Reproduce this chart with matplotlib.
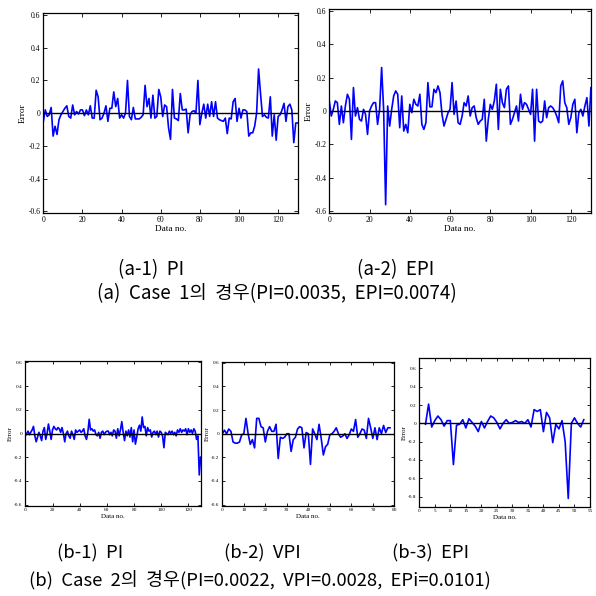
import numpy as np
import matplotlib
matplotlib.use("Agg")
import matplotlib.pyplot as plt

matplotlib.rcParams["axes.unicode_minus"] = False
matplotlib.rcParams["font.family"] = ["Liberation Serif", "DejaVu Serif"]

# (a-1) Case 1, PI error
a1_err = [-0.05, 0.02, -0.02, -0.01, 0.035, -0.14, -0.08, -0.13, -0.04, -0.01,
          0.01, 0.03, 0.045, -0.02, -0.03, 0.05, -0.01, 0.01, -0.005, 0.02,
          0.02, -0.015, 0.02, -0.01, 0.045, -0.03, -0.03, 0.14, 0.10, -0.04,
          -0.03, 0.0, 0.045, -0.05, 0.03, 0.03, 0.13, 0.04, 0.09, -0.03,
          -0.01, -0.03, 0.0, 0.20, -0.02, -0.04, 0.035, -0.035, -0.035, -0.035,
          -0.025, -0.01, 0.17, 0.04, 0.09, -0.03, 0.11, -0.03, -0.02, 0.145,
          0.10, -0.02, 0.05, 0.04, -0.09, -0.16, 0.145, -0.03, -0.035, -0.045,
          0.12, 0.02, 0.02, 0.025, -0.12, -0.01, 0.01, 0.015, 0.0, 0.20,
          -0.07, 0.0, 0.055, -0.03, 0.055, -0.02, 0.07, -0.02, 0.07, -0.03,
          -0.04, -0.045, -0.05, -0.03, -0.125, -0.03, -0.035, 0.07, 0.09, -0.05,
          0.03, -0.03, 0.02, 0.02, 0.01, -0.14, -0.12, -0.12, -0.08, 0.0,
          0.27, 0.12, -0.02, -0.01, -0.025, -0.03, 0.10, -0.14, -0.01, -0.165,
          -0.02, -0.01, 0.02, 0.06, -0.05, 0.04, 0.055, 0.02, -0.18, -0.06,
          -0.06]

# (a-2) Case 1, EPI error
a2_err = [0.06, -0.03, 0.01, 0.06, 0.05, -0.08, 0.03, -0.07, 0.03, 0.10,
          0.07, -0.17, 0.14, -0.03, 0.02, -0.05, -0.06, 0.01, -0.02, -0.14,
          0.0, 0.03, 0.05, 0.05, -0.08, 0.01, 0.26, 0.01, -0.56, 0.03,
          -0.09, 0.01, 0.09, 0.12, 0.10, -0.10, 0.09, -0.12, -0.08, -0.13,
          0.04, -0.01, 0.07, 0.04, 0.03, 0.10, -0.08, -0.11, -0.07, 0.17,
          0.025, 0.025, 0.13, 0.11, 0.15, 0.11, -0.02, -0.09, -0.05, -0.01,
          0.01, 0.17, -0.02, 0.06, -0.07, -0.08, -0.03, 0.05, 0.03, 0.09,
          -0.03, 0.02, 0.03, -0.04, -0.08, -0.06, -0.05, 0.07, -0.18, -0.05,
          0.04, 0.01, 0.06, 0.16, -0.11, 0.13, 0.05, 0.02, 0.13, 0.15,
          -0.08, -0.05, -0.01, 0.03, -0.06, 0.10, 0.01, 0.05, 0.04, 0.01,
          -0.02, 0.13, -0.18, 0.13, -0.06, -0.07, -0.06, 0.06, -0.04, 0.02,
          0.03, 0.02, 0.0, -0.03, -0.07, 0.15, 0.18, 0.05, 0.02, -0.08,
          -0.04, 0.04, 0.07, -0.13, -0.01, 0.01, -0.03, 0.03, 0.08, -0.09,
          0.14]

# (b-1) Case 2, PI error
b1_err = [-0.02, 0.0, 0.02, -0.01, 0.01, 0.03, 0.06, -0.02, -0.07, -0.03,
          0.01, -0.02, -0.06, 0.02, 0.05, -0.05, 0.0, 0.08, 0.02, -0.05,
          0.03, 0.06, 0.04, 0.03, 0.05, 0.04, 0.01, 0.05, 0.0, -0.07,
          0.0, 0.02, -0.02, -0.04, 0.02, -0.01, -0.05, 0.03, 0.01, 0.02,
          0.03, 0.01, 0.02, 0.04, -0.02, -0.05, 0.01, 0.12, 0.03, 0.04,
          0.02, 0.03, -0.01, -0.02, 0.01, -0.04, 0.01, 0.02, -0.01, 0.01,
          0.02, 0.02, -0.01, 0.01, -0.02, 0.03, 0.02, -0.04, 0.04, -0.02,
          0.03, 0.10, 0.01, -0.06, 0.02, -0.02, 0.03, -0.03, 0.05, -0.07,
          0.03, -0.09, -0.03, 0.04, 0.07, 0.02, 0.14, 0.05, 0.06, -0.02,
          0.05, 0.02, 0.03, -0.03, 0.01, 0.02, -0.01, 0.02, -0.03, 0.02,
          0.01, -0.02, -0.12, 0.01, 0.0, -0.01, 0.02, 0.0, 0.02, -0.01,
          0.01, -0.02, 0.03, 0.01, 0.04, 0.01, 0.03, 0.02, 0.04, -0.01,
          0.04, 0.01, 0.03, 0.0, 0.04, 0.02, -0.05, -0.02, -0.35, -0.20]

# (b-2) Case 2, VPI error
b2_err = [0.0, 0.03, 0.0, 0.04, 0.02, -0.07, -0.08, -0.08, -0.07, -0.01,
          0.0, 0.13, 0.0, -0.09, -0.05, -0.12, 0.13, 0.13, 0.06, 0.05,
          -0.07, 0.02, 0.06, 0.02, 0.02, 0.08, -0.21, -0.03, -0.04, -0.03,
          0.0, 0.0, -0.15, -0.05, -0.03, 0.04, 0.06, 0.05, -0.12, 0.01,
          0.0, -0.26, 0.04, 0.0, -0.05, 0.08, -0.04, -0.18, -0.11, -0.09,
          -0.01, 0.0, 0.02, 0.05, 0.0, -0.03, -0.02, 0.0, -0.04, -0.01,
          0.04, 0.02, 0.12, -0.03, 0.0, 0.04, 0.03, -0.04, 0.13, 0.05,
          -0.04, 0.05, -0.05, 0.05, 0.0, 0.07, 0.01, 0.05, 0.05]

# (b-3) Case 2, EPI error (starts at data no. 2)
b3_start = 2
b3_err = [-0.01, 0.21, -0.04, 0.03, 0.08, 0.04, -0.03, 0.03, 0.03, -0.45,
          -0.02, -0.01, 0.04, -0.05, 0.05, 0.01, -0.03, -0.09, 0.02, -0.05,
          0.02, 0.08, 0.06, 0.01, -0.06, 0.0, 0.04, 0.0, 0.01, 0.03,
          0.01, 0.02, 0.0, 0.04, -0.04, 0.15, 0.13, 0.15, -0.09, 0.12,
          0.06, -0.21, -0.01, -0.06, 0.03, -0.20, -0.82, 0.0, 0.06, 0.0,
          -0.04, 0.04]

sub_titles_a = ["(a-1)  PI", "(a-2)  EPI"]
sub_titles_b = ["(b-1)  PI", "(b-2)  VPI", "(b-3)  EPI"]
title_a = "(a)  Case  1의  경우(PI=0.0035,  EPI=0.0074)"
title_b = "(b)  Case  2의  경우(PI=0.0022,  VPI=0.0028,  EPi=0.0101)"

kr = ["Noto Sans CJK KR", "DejaVu Sans"]


def draw(ax, x, y, xlim, xticks, ylim, yticks, fs, ticklen):
    ax.plot(x, y, color="#0000ff", lw=1.2)
    ax.axhline(0, color="k", lw=1.0)
    ax.set_xlim(xlim)
    ax.set_ylim(ylim)
    ax.set_xticks(xticks)
    ax.set_yticks(yticks)
    ax.set_yticklabels(["0" if abs(v) < 1e-9 else "%g" % v for v in yticks])
    ax.tick_params(direction="in", top=True, right=True, length=ticklen,
                   width=0.6, labelsize=fs, pad=2)
    ax.set_xlabel("Data no.", fontsize=fs + 1.2, labelpad=1)
    ax.set_ylabel("Error", fontsize=fs + 1.2, labelpad=1)
    for s in ax.spines.values():
        s.set_linewidth(0.9)


fig = plt.figure(figsize=(5.96, 5.96), dpi=100)

ax = fig.add_axes([0.0727, 0.6426, 0.4268, 0.335])
draw(ax, np.arange(len(a1_err)), a1_err, (0, 130), range(0, 121, 20),
     (-0.61, 0.61), np.arange(-0.6, 0.61, 0.2).round(1), 5.5, 3)

ax = fig.add_axes([0.5525, 0.6426, 0.439, 0.3423])
draw(ax, np.arange(len(a2_err)), a2_err, (0, 130), range(0, 121, 20),
     (-0.61, 0.61), np.arange(-0.6, 0.61, 0.2).round(1), 5.5, 3)

ax = fig.add_axes([0.0425, 0.1515, 0.2948, 0.2423])
draw(ax, np.arange(len(b1_err)), b1_err, (0, 129.3), range(0, 121, 20),
     (-0.61, 0.61), np.arange(-0.6, 0.61, 0.2).round(1), 3.8, 2)

ax = fig.add_axes([0.373, 0.1515, 0.2886, 0.2416])
draw(ax, np.arange(len(b2_err)), b2_err, (0, 80), range(0, 81, 10),
     (-0.61, 0.61), np.arange(-0.6, 0.61, 0.2).round(1), 3.8, 2)

ax = fig.add_axes([0.7035, 0.1498, 0.2864, 0.249])
draw(ax, np.arange(len(b3_err)) + b3_start, b3_err, (0, 55), range(0, 56, 5),
     (-0.91, 0.71), np.arange(-0.8, 0.61, 0.2).round(1), 3.8, 2)

# captions
def cap(x, y, s, size):
    fig.text(x / 596, 1 - y / 596, s, ha="center", va="center",
             fontsize=size, family=kr)

cap(151, 270, sub_titles_a[0], 13.5)
cap(396, 270, sub_titles_a[1], 13.5)
cap(277, 294, title_a, 13.5)
cap(90, 553, sub_titles_b[0], 13.3)
cap(262, 553, sub_titles_b[1], 13.3)
cap(431, 553, sub_titles_b[2], 13.3)
cap(260, 580, title_b, 13.3)

fig.savefig("out.png", dpi=100)
